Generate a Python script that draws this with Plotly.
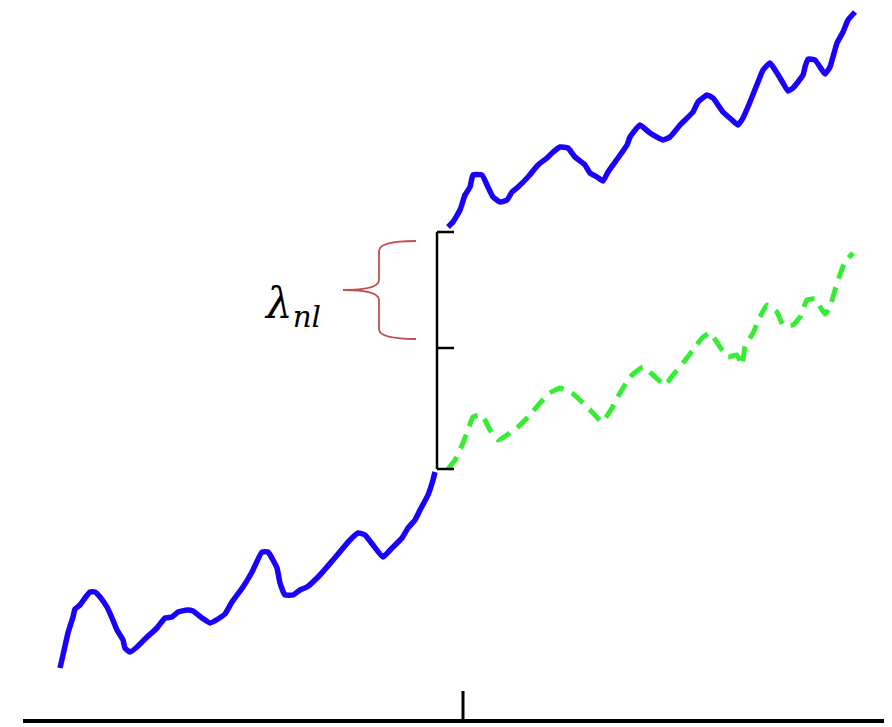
import plotly.graph_objects as go

H = 727  # picture height used to turn read-off heights into levels
PAGE_PAD = 8  # browser default body margin that offsets the figure

# Blue series, before the jump (x, height-from-top as read)
blue1_x = [60, 63, 68, 73, 75, 80, 85, 90, 95, 100, 107, 112, 117, 123, 125, 130, 137, 147, 157, 165,
           172, 178, 187, 193, 202, 210, 218, 225, 232, 243, 252, 262, 268, 277, 280, 285, 293, 300,
           307, 320, 333, 350, 358, 365, 373, 383, 392, 402, 408, 415, 420, 428, 433, 435]
blue1_top = [668, 655, 633, 617, 609, 605, 598, 592, 592, 597, 607, 618, 630, 640, 648, 652, 647, 637,
             628, 618, 617, 612, 610, 611, 618, 623, 619, 614, 602, 587, 572, 552, 552, 568, 583, 595,
             595, 590, 587, 575, 560, 540, 533, 535, 545, 557, 548, 538, 528, 520, 510, 495, 480, 472]

# Blue series, after the jump
blue2_x = [448, 453, 460, 465, 470, 473, 482, 487, 493, 500, 507, 512, 518, 528, 538, 547, 552, 560,
           568, 575, 585, 590, 597, 603, 608, 618, 627, 630, 640, 650, 663, 670, 680, 693, 698, 707,
           713, 723, 732, 738, 743, 750, 758, 763, 770, 777, 783, 788, 793, 803, 805, 808, 815, 822,
           825, 830, 837, 843, 848, 855]
blue2_top = [227, 222, 210, 195, 187, 175, 175, 185, 197, 202, 200, 192, 187, 177, 165, 158, 153, 147,
             148, 157, 165, 173, 177, 181, 172, 158, 145, 137, 125, 133, 140, 137, 125, 112, 102, 95,
             98, 112, 120, 125, 118, 102, 82, 70, 63, 73, 83, 91, 88, 75, 67, 59, 60, 70,
             74, 67, 43, 32, 20, 12]

# Green dashed counterfactual series
green_x = [448, 455, 463, 468, 473, 482, 490, 498, 510, 518, 530, 540, 550, 560, 572, 583, 593, 602,
           612, 620, 630, 643, 653, 665, 673, 683, 693, 702, 710, 720, 728, 737, 742, 745, 753, 760,
           767, 777, 783, 793, 800, 807, 815, 825, 830, 837, 845, 853]
green_top = [469, 460, 443, 430, 417, 415, 430, 440, 433, 427, 415, 403, 393, 388, 393, 403, 413, 422,
             408, 393, 377, 367, 375, 385, 375, 363, 350, 338, 333, 347, 357, 355, 365, 347, 333, 317,
             305, 312, 325, 325, 317, 300, 299, 314, 307, 283, 262, 253]

# Annotation geometry
bracket_x = 437
bracket_tops = [232, 348, 469]
axis_y = 721
axis_tick_x = 463
label_text = "<i>λ<sub>nl</sub></i>"


def lv(vals):
    return [H - v for v in vals]


line_common = dict(shape="spline", smoothing=0.4)
fig = go.Figure()
fig.add_trace(go.Scatter(x=blue1_x, y=lv(blue1_top), mode="lines",
                         line=dict(color="#1a00ff", width=5.5, **line_common),
                         hoverinfo="skip", showlegend=False))
fig.add_trace(go.Scatter(x=blue2_x, y=lv(blue2_top), mode="lines",
                         line=dict(color="#1a00ff", width=5.5, **line_common),
                         hoverinfo="skip", showlegend=False))
fig.add_trace(go.Scatter(x=green_x, y=lv(green_top), mode="lines",
                         line=dict(color="#33ee33", width=5, dash="15px,9px", **line_common),
                         hoverinfo="skip", showlegend=False))

shapes = []
# bottom axis line and its tick
shapes.append(dict(type="line", xref="x", yref="y", x0=23, x1=900, y0=H - axis_y, y1=H - axis_y,
                   line=dict(color="black", width=4)))
shapes.append(dict(type="line", xref="x", yref="y", x0=axis_tick_x, x1=axis_tick_x, y0=H - axis_y,
                   y1=H - 691, line=dict(color="black", width=3)))
# vertical bracket with ticks
shapes.append(dict(type="line", xref="x", yref="y", x0=bracket_x, x1=bracket_x,
                   y0=H - bracket_tops[0], y1=H - bracket_tops[-1], line=dict(color="black", width=2.5)))
for t in bracket_tops:
    shapes.append(dict(type="line", xref="x", yref="y", x0=bracket_x, x1=bracket_x + 17,
                       y0=H - t, y1=H - t, line=dict(color="black", width=2.5)))


# red curly brace
def P(x, y):
    return f"{x},{H - y}"


brace = (f"M {P(416, 241)} Q {P(379, 241)} {P(379, 251)} L {P(379, 280)} "
         f"Q {P(379, 290)} {P(343, 290)} Q {P(379, 290)} {P(379, 300)} "
         f"L {P(379, 329)} Q {P(379, 339)} {P(416, 339)}")
shapes.append(dict(type="path", xref="x", yref="y", path=brace,
                   line=dict(color="#c0504d", width=1.8)))

fig.update_layout(
    width=892 - PAGE_PAD, height=H - PAGE_PAD,
    margin=dict(l=0, r=0, t=0, b=0),
    paper_bgcolor="white", plot_bgcolor="white",
    xaxis=dict(range=[PAGE_PAD, 892], visible=False, fixedrange=True),
    yaxis=dict(range=[0, H - PAGE_PAD], visible=False, fixedrange=True),
    shapes=shapes,
    annotations=[dict(x=292, y=H - 306, xref="x", yref="y", text=label_text, showarrow=False,
                      xanchor="center", yanchor="middle",
                      font=dict(family="DejaVu Serif", size=42, color="black"))],
)

fig.write_html("out.html")
